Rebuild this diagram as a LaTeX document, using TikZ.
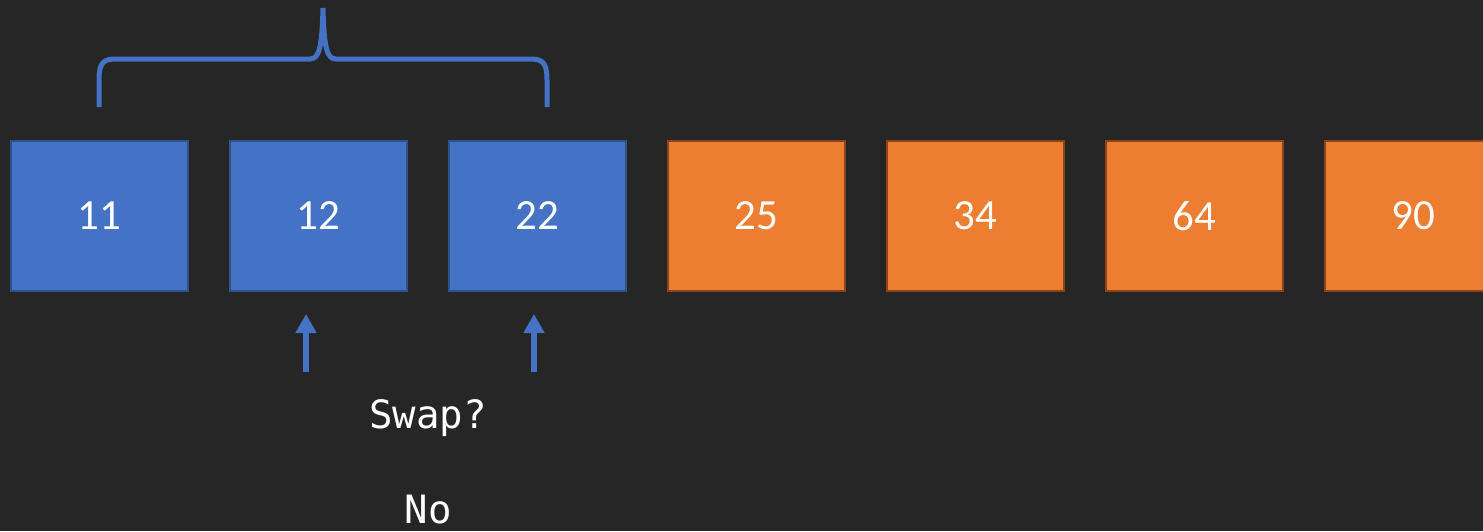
\documentclass[tikz,border=0pt]{standalone}
\usepackage{fontspec}
\setmainfont{Carlito}
\setmonofont{DejaVu Sans Mono}
\usetikzlibrary{arrows.meta}
\definecolor{bg}{HTML}{262626}
\definecolor{cblue}{HTML}{4472C4}
\definecolor{cblueb}{HTML}{2F528F}
\definecolor{corange}{HTML}{ED7D31}
\definecolor{coranb}{HTML}{8A4418}
\begin{document}
\begin{tikzpicture}[x=1pt,y=-1pt,
  cell/.style={minimum width=177pt,minimum height=150pt,inner sep=0pt,line width=2pt,text=white,font=\fontsize{43}{47}\selectfont},
  bluecell/.style={cell,fill=cblue,draw=cblueb},
  orangecell/.style={cell,fill=corange,draw=coranb},
  ptr/.style={cblue,line width=6pt,-{Triangle[width=20pt,length=19pt]}},
  lbl/.style={text=white,font=\ttfamily\fontsize{39}{43}\selectfont,inner sep=0pt}
]
\fill[bg] (0,0) rectangle (1483,531);
\useasboundingbox (0,0) rectangle (1483,531);
\node[bluecell] (c1) at (99.5,216) {11};
\node[bluecell] (c2) at (318.5,216) {12};
\node[bluecell] (c3) at (537.5,216) {22};
\node[orangecell] (c4) at (756.5,216) {25};
\node[orangecell] (c5) at (975.5,216) {34};
\node[orangecell] (c6) at (1194.5,216) {64};
\node[orangecell] (c7) at (1413.5,216) {90};
% brace
\draw[cblue,line width=5pt] (99,107) -- (99,80) .. controls (99,62) and (104,59) .. (116,59)
  -- (310,59) .. controls (319,59) and (322,48) .. (323,8)
  .. controls (324,48) and (327,59) .. (336,59)
  -- (530,59) .. controls (542,59) and (547,62) .. (547,80) -- (547,107);
% pointers
\coordinate (p2) at (306,372);
\coordinate (p3) at (534,372);
\draw[ptr] (p2) -- (306,314);
\draw[ptr] (p3) -- (534,314);
\node[lbl] (swap) at (428,418) {Swap?};
\node[lbl] (no) at (428,510) {No};
\end{tikzpicture}
\end{document}
